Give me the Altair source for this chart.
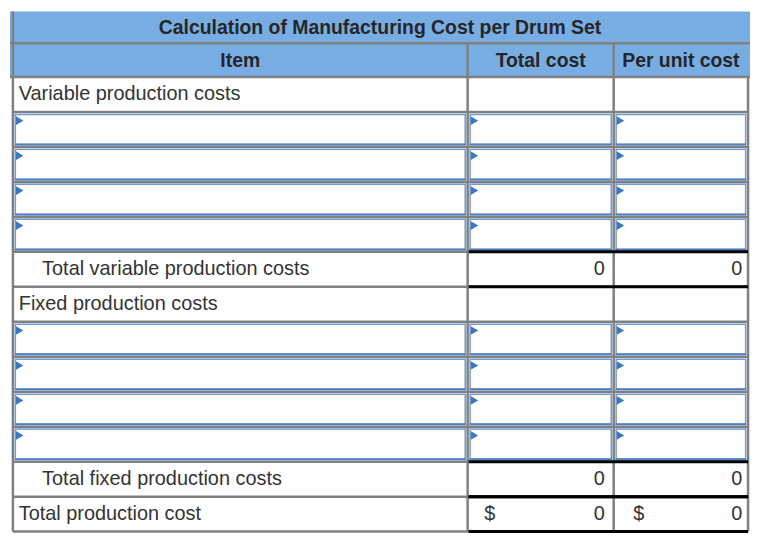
import altair as alt
import pandas as pd

# ---- table content ----
title_text = "Calculation of Manufacturing Cost per Drum Set"
headers = ["Item", "Total cost", "Per unit cost"]
row_labels = ["Variable production costs", "", "", "", "",
              "Total variable production costs",
              "Fixed production costs", "", "", "", "",
              "Total fixed production costs", "Total production cost"]
row_kinds = ["section", "input", "input", "input", "input", "total",
             "section", "input", "input", "input", "input", "total", "grand"]
total_cost = [None, None, None, None, None, 0, None, None, None, None, None, 0, 0]
per_unit_cost = [None, None, None, None, None, 0, None, None, None, None, None, 0, 0]
currency_symbol = "$"

# ---- layout (table units) ----
TW, TH = 760, 539
col_edges = [3, 470, 620, 758]
title_bottom = 33
body_top = 68
n_rows = len(row_labels)
row_h = (TH - body_top) / n_rows
W, H = 744, 523

HEADER_BLUE = "#78ade4"
GRID_GRAY = "#808080"
INPUT_BLUE = "#6f9bd6"
INPUT_BLUE_DARK = "#4a80c4"
FONT = "Liberation Sans"

xs = alt.Scale(domain=[0, TW], range=[0, W], nice=False, zero=False)
ys = alt.Scale(domain=[0, TH], range=[0, H], nice=False, zero=False)


def X(f="x"):
    return alt.X(f"{f}:Q", scale=xs, axis=None)


def Y(f="y"):
    return alt.Y(f"{f}:Q", scale=ys, axis=None)


def row_top(i):
    return body_top + i * row_h


# header background
bg = pd.DataFrame([{"x": 0, "x2": TW, "y": 0, "y2": body_top}])
bg_layer = alt.Chart(bg).mark_rect(color=HEADER_BLUE).encode(
    x=X(), x2="x2:Q", y=Y(), y2="y2:Q")

# input boxes
boxes, bottoms, tris = [], [], []
for i, k in enumerate(row_kinds):
    if k != "input":
        continue
    t, b = row_top(i), row_top(i + 1)
    for j in range(3):
        boxes.append({"x": col_edges[j] + 2.5, "x2": col_edges[j + 1] - 2.5,
                      "y": t + 2.5, "y2": b - 2.5})
        bottoms.append({"x": col_edges[j] + 2, "x2": col_edges[j + 1] - 2,
                        "y": b - 2.5})
        tris.append({"x": col_edges[j] + 7, "y": t + 9})
box_layer = alt.Chart(pd.DataFrame(boxes)).mark_rect(
    fill="white", stroke=INPUT_BLUE, strokeWidth=1.5).encode(
    x=X(), x2="x2:Q", y=Y(), y2="y2:Q")
bottom_layer = alt.Chart(pd.DataFrame(bottoms)).mark_rule(
    color=INPUT_BLUE_DARK, strokeWidth=2).encode(x=X(), x2="x2:Q", y=Y())
tri_layer = alt.Chart(pd.DataFrame(tris)).mark_point(
    shape="triangle-right", filled=True, color="#3b78c3", opacity=1, size=75).encode(
    x=X(), y=Y())

# gray grid lines
gray = [
    {"x": 0, "x2": TW, "y": title_bottom, "y2": title_bottom},
    {"x": 0, "x2": TW, "y": body_top, "y2": body_top},
    {"x": col_edges[0], "x2": col_edges[0], "y": 0, "y2": TH},
    {"x": col_edges[1], "x2": col_edges[1], "y": title_bottom, "y2": TH},
    {"x": col_edges[2], "x2": col_edges[2], "y": title_bottom, "y2": TH},
    {"x": col_edges[3], "x2": col_edges[3], "y": body_top, "y2": TH},
]
for i in range(1, n_rows + 1):
    yy = row_top(i)
    gray.append({"x": col_edges[0], "x2": col_edges[3], "y": yy, "y2": yy})
gray_layer = alt.Chart(pd.DataFrame(gray)).mark_rule(
    color=GRID_GRAY, strokeWidth=2.5).encode(x=X(), x2="x2:Q", y=Y(), y2="y2:Q")

# black total lines
black = []
for i, k in enumerate(row_kinds):
    if k in ("total", "grand"):
        for yy in (row_top(i), row_top(i + 1)):
            black.append({"x": col_edges[1] + 1, "x2": col_edges[3], "y": yy})
black_layer = alt.Chart(pd.DataFrame(black)).mark_rule(
    color="black", strokeWidth=3).encode(x=X(), x2="x2:Q", y=Y())

# texts
title_df = pd.DataFrame([{"x": TW / 2, "y": title_bottom / 2 + 0.5, "t": title_text}])
title_layer = alt.Chart(title_df).mark_text(
    font=FONT, fontSize=19.5, fontWeight="bold", color="#262626",
    align="center", baseline="middle").encode(x=X(), y=Y(), text="t:N")

hdr = [{"x": (col_edges[j] + col_edges[j + 1]) / 2, "y": (title_bottom + body_top) / 2 + 0.5,
        "t": h} for j, h in enumerate(headers)]
hdr_layer = alt.Chart(pd.DataFrame(hdr)).mark_text(
    font=FONT, fontSize=19.5, fontWeight="bold", color="#262626",
    align="center", baseline="middle").encode(x=X(), y=Y(), text="t:N")

labels = []
for i, (lab, k) in enumerate(zip(row_labels, row_kinds)):
    if lab:
        labels.append({"x": col_edges[0] + (30 if k == "total" else 6),
                       "y": row_top(i) + row_h / 2, "t": lab})
label_layer = alt.Chart(pd.DataFrame(labels)).mark_text(
    font=FONT, fontSize=20, color="#333333", align="left", baseline="middle").encode(
    x=X(), y=Y(), text="t:N")

vals, dollars = [], []
for i, (a, b, k) in enumerate(zip(total_cost, per_unit_cost, row_kinds)):
    cy = row_top(i) + row_h / 2
    if a is not None:
        vals.append({"x": col_edges[2] - 9, "y": cy, "t": str(a)})
    if b is not None:
        vals.append({"x": col_edges[3] - 6, "y": cy, "t": str(b)})
    if k == "grand":
        dollars.append({"x": col_edges[1] + 17, "y": cy, "t": currency_symbol})
        dollars.append({"x": col_edges[2] + 20, "y": cy, "t": currency_symbol})
val_layer = alt.Chart(pd.DataFrame(vals)).mark_text(
    font=FONT, fontSize=20, color="#333333", align="right", baseline="middle").encode(
    x=X(), y=Y(), text="t:N")
dollar_layer = alt.Chart(pd.DataFrame(dollars)).mark_text(
    font=FONT, fontSize=20, color="#333333", align="left", baseline="middle").encode(
    x=X(), y=Y(), text="t:N")

chart = alt.layer(
    bg_layer, box_layer, bottom_layer, gray_layer, black_layer, tri_layer,
    title_layer, hdr_layer, label_layer, val_layer, dollar_layer
).properties(width=W, height=H, padding=0, background="white").configure_view(
    stroke=None)

chart.save("out.html", embed_options={"renderer": "svg", "actions": False})
